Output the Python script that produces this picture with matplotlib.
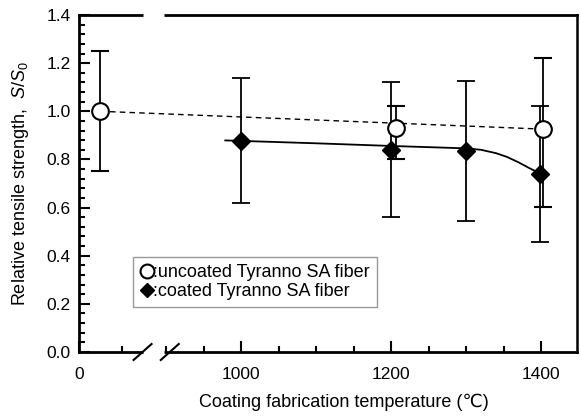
import numpy as np
import matplotlib
matplotlib.use('Agg')
import matplotlib.pyplot as plt
from matplotlib.lines import Line2D

plt.rcParams['font.family'] = ['Liberation Sans', 'DejaVu Sans']
plt.rcParams['mathtext.fontset'] = 'custom'
plt.rcParams['mathtext.rm'] = 'Liberation Sans'
plt.rcParams['mathtext.it'] = 'Liberation Sans:italic'

# uncoated fibre (room temperature + heat treated)
unc_t = [25, 1207, 1402]
unc_s = [1.00, 0.93, 0.926]
unc_lo = [0.75, 0.80, 0.603]
unc_hi = [1.25, 1.02, 1.22]

# coated fibre
coat_t = [1000, 1200, 1300, 1399]
coat_s = [0.877, 0.839, 0.835, 0.74]
coat_lo = [0.62, 0.56, 0.545, 0.458]
coat_hi = [1.14, 1.12, 1.127, 1.02]

# fitted trend line for coated fibre
curve_t = [979, 1000, 1100, 1200, 1300, 1320, 1340, 1355, 1370, 1385, 1400]
curve_s = [0.879, 0.877, 0.867, 0.856, 0.846, 0.840, 0.826, 0.810, 0.788, 0.763, 0.740]

# broken x axis: piecewise linear scale
brk_t = [0, 75, 897.3, 1448]
brk_u = [0, 64, 85, 498]


def fwd(t):
    return np.interp(t, brk_t, brk_u)


def inv(u):
    return np.interp(u, brk_u, brk_t)


fig = plt.figure(figsize=(5.81, 4.16), dpi=100)
ax = fig.add_axes([79 / 581, 64 / 416, 498 / 581, 337 / 416])
ax.set_xscale('function', functions=(fwd, inv))
ax.set_xlim(0, 1448)
ax.set_ylim(0, 1.4)

ax.plot([unc_t[0], unc_t[-1]], [unc_s[0], unc_s[-1]], 'k--', lw=1.0, dashes=(4, 3), zorder=2)
ax.plot(curve_t, curve_s, 'k-', lw=1.3, zorder=2)

c_err = [np.array(coat_s) - np.array(coat_lo), np.array(coat_hi) - np.array(coat_s)]
ax.errorbar(coat_t, coat_s, yerr=c_err, fmt='D', ms=9.2, mfc='black', mec='black',
            ecolor='black', elinewidth=1.3, capsize=6.5, capthick=1.3, zorder=3)
u_err = [np.array(unc_s) - np.array(unc_lo), np.array(unc_hi) - np.array(unc_s)]
ax.errorbar(unc_t, unc_s, yerr=u_err, fmt='o', ms=12, mfc='white', mec='black', mew=1.5,
            ecolor='black', elinewidth=1.3, capsize=6.5, capthick=1.3, zorder=4)

# ticks
ax.set_xticks([0, 1000, 1200, 1400])
ax.set_xticks([50, 900, 950, 1050, 1100, 1150, 1250, 1300, 1350], minor=True)
ax.set_yticks(np.arange(0, 1.41, 0.2))
ax.set_yticks(np.arange(0, 1.41, 0.04), minor=True)
ax.set_yticklabels(['%.1f' % v for v in np.arange(0, 1.41, 0.2)])
ax.tick_params(which='both', direction='in', width=1.5, labelsize=12.5, top=False, right=False)
ax.tick_params(which='major', length=8)
ax.tick_params(which='minor', length=4.5)
ax.tick_params(axis='x', which='major', pad=10.5)
ax.tick_params(axis='y', which='major', pad=6)

for sp in ax.spines.values():
    sp.set_linewidth(2.0)
ax.spines['right'].set_linewidth(1.8)

ax.set_xlabel('Coating fabrication temperature (\u2103)', fontsize=13, labelpad=9)
ax.xaxis.label.set_x(0.532)
ax.set_ylabel(r'Relative tensile strength,  $S/S_0$', fontsize=13, labelpad=11)

# axis break: white gaps in top and bottom spines plus slashes
g0, g1 = 75, 897.3
for yy in (0, 1):
    ax.plot([g0 + 3, g1 - 3], [yy, yy], color='white', lw=3.5, transform=ax.get_xaxis_transform(),
            clip_on=False, zorder=10, solid_capstyle='butt')
for gx in (74.5, 905):
    xu = ax.transData.transform((gx, 0))[0]
    xa = ax.transAxes.inverted().transform((xu, 0))[0]
    dx = 9 / 498
    dy = 8 / 337
    ax.plot([xa - dx, xa + dx], [-dy, dy], color='black', lw=1.5, transform=ax.transAxes,
            clip_on=False, zorder=11)

handles = [Line2D([], [], ls='none', marker='o', ms=10, mfc='white', mec='black', mew=1.5),
           Line2D([], [], ls='none', marker='D', ms=7.5, mfc='black', mec='black')]
leg = ax.legend(handles, [':uncoated Tyranno SA fiber', ':coated Tyranno SA fiber'],
                loc='upper left', bbox_to_anchor=(54 / 498, (352 - 257) / 337),
                fontsize=13, frameon=True, fancybox=False, handlelength=0.7,
                handletextpad=0.0, borderpad=0.4, labelspacing=0.1, borderaxespad=0)
leg.get_frame().set_edgecolor('#808080')
leg.get_frame().set_linewidth(1.0)

fig.savefig('out.png', dpi=100)
